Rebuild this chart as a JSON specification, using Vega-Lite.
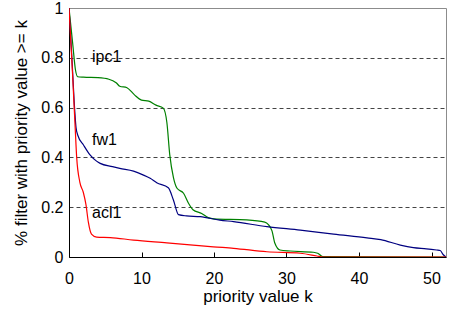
{
  "$schema": "https://vega.github.io/schema/vega-lite/v6.json",
  "width": 377,
  "height": 249,
  "autosize": {"type": "none"},
  "padding": {"left": 69, "top": 8, "right": 3, "bottom": 52},
  "background": "white",
  "config": {
    "font": "Liberation Sans",
    "view": {"stroke": "#8c8c8c", "strokeWidth": 1},
    "axis": {"labelFont": "Liberation Sans", "titleFont": "Liberation Sans", "labelColor": "black", "titleColor": "black", "labelFontSize": 16, "titleFontSize": 17, "titleFontWeight": "normal"}
  },
  "datasets": {
    "curves": [
      {"series": "ipc1", "k": 0, "v": 1},
      {"series": "ipc1", "k": 0.5, "v": 0.86},
      {"series": "ipc1", "k": 0.9, "v": 0.75},
      {"series": "ipc1", "k": 1.2, "v": 0.724},
      {"series": "ipc1", "k": 2, "v": 0.722},
      {"series": "ipc1", "k": 4, "v": 0.72},
      {"series": "ipc1", "k": 5.5, "v": 0.714},
      {"series": "ipc1", "k": 6.5, "v": 0.70},
      {"series": "ipc1", "k": 7, "v": 0.686},
      {"series": "ipc1", "k": 8, "v": 0.68},
      {"series": "ipc1", "k": 9, "v": 0.652},
      {"series": "ipc1", "k": 10, "v": 0.63},
      {"series": "ipc1", "k": 11, "v": 0.626},
      {"series": "ipc1", "k": 12, "v": 0.61},
      {"series": "ipc1", "k": 13, "v": 0.598},
      {"series": "ipc1", "k": 13.5, "v": 0.54},
      {"series": "ipc1", "k": 13.9, "v": 0.41},
      {"series": "ipc1", "k": 14.4, "v": 0.32},
      {"series": "ipc1", "k": 14.9, "v": 0.276},
      {"series": "ipc1", "k": 15.8, "v": 0.256},
      {"series": "ipc1", "k": 16.5, "v": 0.215},
      {"series": "ipc1", "k": 17.1, "v": 0.19},
      {"series": "ipc1", "k": 18.3, "v": 0.175},
      {"series": "ipc1", "k": 19.2, "v": 0.158},
      {"series": "ipc1", "k": 20, "v": 0.153},
      {"series": "ipc1", "k": 24.5, "v": 0.149},
      {"series": "ipc1", "k": 27, "v": 0.14},
      {"series": "ipc1", "k": 27.5, "v": 0.13},
      {"series": "ipc1", "k": 28, "v": 0.105},
      {"series": "ipc1", "k": 28.4, "v": 0.055},
      {"series": "ipc1", "k": 29.1, "v": 0.028},
      {"series": "ipc1", "k": 30.5, "v": 0.024},
      {"series": "ipc1", "k": 33.7, "v": 0.019},
      {"series": "ipc1", "k": 34.3, "v": 0.015},
      {"series": "ipc1", "k": 35, "v": 0.002},
      {"series": "ipc1", "k": 52, "v": 0},
      {"series": "fw1", "k": 0, "v": 1},
      {"series": "fw1", "k": 0.4, "v": 0.8},
      {"series": "fw1", "k": 0.7, "v": 0.63},
      {"series": "fw1", "k": 0.97, "v": 0.52},
      {"series": "fw1", "k": 1.2, "v": 0.49},
      {"series": "fw1", "k": 2, "v": 0.45},
      {"series": "fw1", "k": 2.9, "v": 0.41},
      {"series": "fw1", "k": 3.8, "v": 0.385},
      {"series": "fw1", "k": 4.3, "v": 0.376},
      {"series": "fw1", "k": 6, "v": 0.363},
      {"series": "fw1", "k": 7, "v": 0.356},
      {"series": "fw1", "k": 8.9, "v": 0.345},
      {"series": "fw1", "k": 10.2, "v": 0.33},
      {"series": "fw1", "k": 11.2, "v": 0.316},
      {"series": "fw1", "k": 12.1, "v": 0.298},
      {"series": "fw1", "k": 13.7, "v": 0.278},
      {"series": "fw1", "k": 14.4, "v": 0.229},
      {"series": "fw1", "k": 15.1, "v": 0.17},
      {"series": "fw1", "k": 16.2, "v": 0.165},
      {"series": "fw1", "k": 18.1, "v": 0.162},
      {"series": "fw1", "k": 20.8, "v": 0.148},
      {"series": "fw1", "k": 22.7, "v": 0.142},
      {"series": "fw1", "k": 27.3, "v": 0.122},
      {"series": "fw1", "k": 31.9, "v": 0.108},
      {"series": "fw1", "k": 36.5, "v": 0.092},
      {"series": "fw1", "k": 41.1, "v": 0.077},
      {"series": "fw1", "k": 43, "v": 0.07},
      {"series": "fw1", "k": 45.7, "v": 0.048},
      {"series": "fw1", "k": 47.5, "v": 0.038},
      {"series": "fw1", "k": 49.3, "v": 0.033},
      {"series": "fw1", "k": 50.7, "v": 0.028},
      {"series": "fw1", "k": 51.2, "v": 0.026},
      {"series": "fw1", "k": 51.6, "v": 0.01},
      {"series": "fw1", "k": 52, "v": 0},
      {"series": "acl1", "k": 0, "v": 1},
      {"series": "acl1", "k": 0.5, "v": 0.73},
      {"series": "acl1", "k": 0.85, "v": 0.52},
      {"series": "acl1", "k": 1.06, "v": 0.40},
      {"series": "acl1", "k": 1.5, "v": 0.30},
      {"series": "acl1", "k": 1.97, "v": 0.26},
      {"series": "acl1", "k": 2.34, "v": 0.21},
      {"series": "acl1", "k": 2.67, "v": 0.14},
      {"series": "acl1", "k": 3.1, "v": 0.092},
      {"series": "acl1", "k": 3.8, "v": 0.08},
      {"series": "acl1", "k": 5.7, "v": 0.078},
      {"series": "acl1", "k": 8.9, "v": 0.068},
      {"series": "acl1", "k": 13.5, "v": 0.057},
      {"series": "acl1", "k": 17.1, "v": 0.048},
      {"series": "acl1", "k": 19.9, "v": 0.041},
      {"series": "acl1", "k": 22.7, "v": 0.035},
      {"series": "acl1", "k": 27.3, "v": 0.021},
      {"series": "acl1", "k": 31.9, "v": 0.015},
      {"series": "acl1", "k": 34.2, "v": 0.004},
      {"series": "acl1", "k": 35, "v": 0},
      {"series": "acl1", "k": 52, "v": 0}
    ],
    "labels": [
      {"series": "ipc1", "k": 3.17, "v": 0.784},
      {"series": "fw1", "k": 3.17, "v": 0.449},
      {"series": "acl1", "k": 3.17, "v": 0.158}
    ]
  },
  "layer": [
    {
      "data": {"name": "curves"},
      "mark": {"type": "line", "interpolate": "monotone", "strokeWidth": 1.2, "clip": true},
      "encoding": {
        "x": {
          "field": "k", "type": "quantitative",
          "scale": {"domain": [0, 52], "nice": false, "zero": true},
          "axis": {
            "title": "priority value k",
            "values": [0, 10, 20, 30, 40, 50],
            "grid": false,
            "domainColor": "black",
            "tickColor": "black",
            "ticks": true,
            "tickSize": -5,
            "labelPadding": 18,
            "titlePadding": 2,
            "labelFlush": false
          }
        },
        "y": {
          "field": "v", "type": "quantitative",
          "scale": {"domain": [0, 1], "nice": false},
          "axis": {
            "title": "% filter with priority value >= k",
            "values": [0, 0.2, 0.4, 0.6, 0.8, 1],
            "format": "~g",
            "ticks": false,
            "domainColor": "black",
            "labelPadding": 6,
            "titlePadding": 10,
            "grid": true,
            "gridColor": "#444444",
            "gridDash": [4, 3],
            "gridWidth": 1,
            "gridOpacity": {"condition": {"test": "datum.value > 0.01 && datum.value < 0.99", "value": 1}, "value": 0},
            "labelFlush": false
          }
        },
        "color": {
          "field": "series", "type": "nominal",
          "scale": {"domain": ["acl1", "fw1", "ipc1"], "range": ["#ff0000", "#000080", "#008000"]},
          "legend": null
        }
      }
    },
    {
      "data": {"name": "labels"},
      "mark": {"type": "text", "align": "left", "baseline": "alphabetic", "fontSize": 16, "font": "Liberation Sans", "color": "black"},
      "encoding": {
        "x": {"field": "k", "type": "quantitative"},
        "y": {"field": "v", "type": "quantitative"},
        "text": {"field": "series"}
      }
    }
  ]
}
